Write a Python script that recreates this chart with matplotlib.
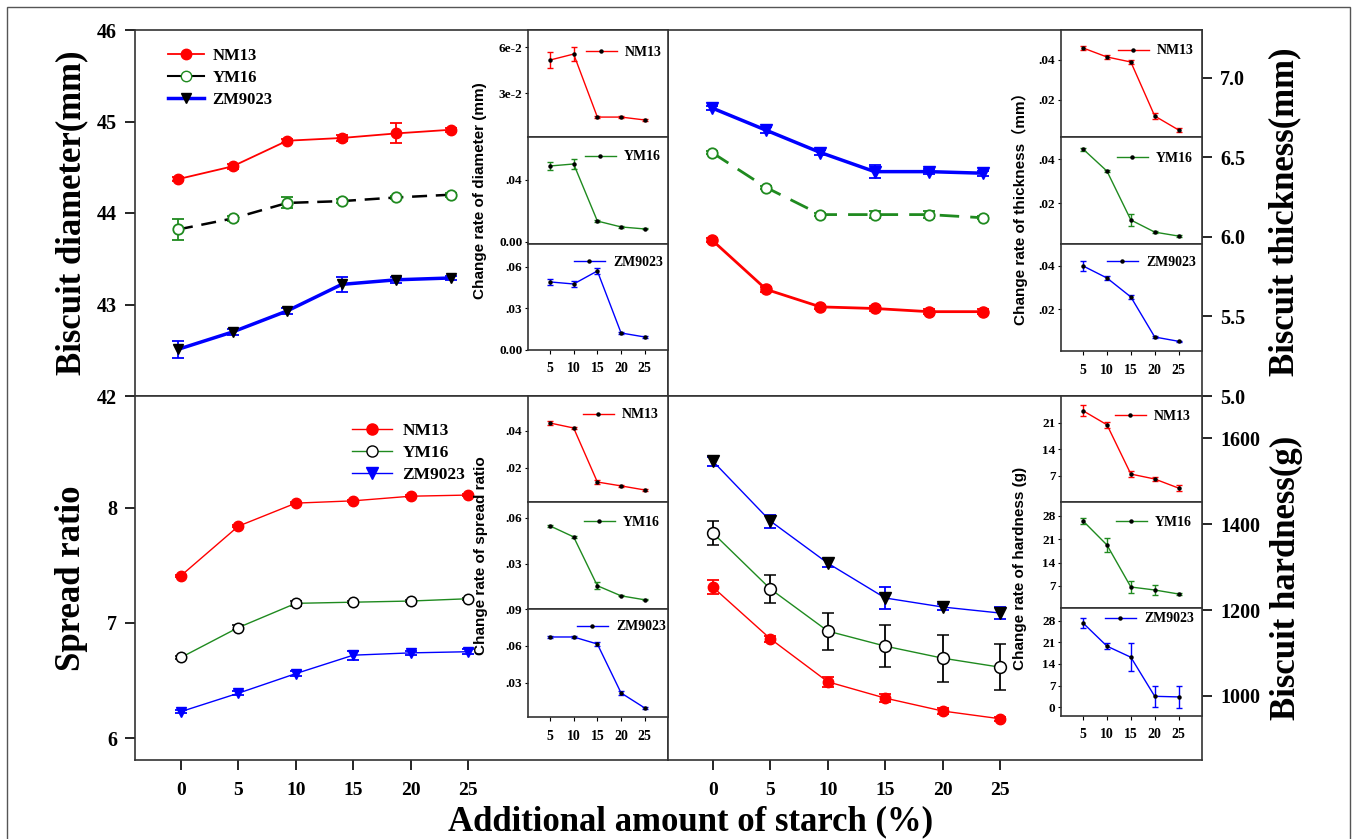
import matplotlib
matplotlib.use("Agg")
import matplotlib.pyplot as plt
from matplotlib.lines import Line2D
from matplotlib.patches import Rectangle

W, H = 1357, 839
SERIF = "Liberation Serif"
SANS = "Liberation Sans"
plt.rcParams['font.family'] = [SERIF, 'DejaVu Serif']
plt.rcParams['font.weight'] = 'bold'

RED, GREEN, BLUE = '#ff0000', '#1f8a1f', '#0000ff'

# ---------- data ----------
starch = [0, 5, 10, 15, 20, 25]
starch_rate = [5, 10, 15, 20, 25]
varieties = ['NM13', 'YM16', 'ZM9023']

# biscuit diameter (mm)
dia_nm13 = [44.37, 44.51, 44.79, 44.82, 44.87, 44.91]
dia_nm13_err = [0.02, 0.03, 0.02, 0.03, 0.11, 0.02]
dia_ym16 = [43.82, 43.94, 44.11, 44.13, 44.17, 44.20]
dia_ym16_err = [0.11, 0.03, 0.06, 0.02, 0.02, 0.02]
dia_zm = [42.51, 42.70, 42.93, 43.22, 43.27, 43.29]
dia_zm_err = [0.09, 0.03, 0.03, 0.08, 0.03, 0.02]

# biscuit thickness (mm)
thk_nm13 = [5.98, 5.67, 5.56, 5.55, 5.53, 5.53]
thk_nm13_err = [0.01, 0.015, 0.015, 0.015, 0.015, 0.015]
thk_ym16 = [6.53, 6.31, 6.14, 6.14, 6.14, 6.12]
thk_ym16_err = [0.01, 0.01, 0.01, 0.02, 0.02, 0.01]
thk_zm = [6.81, 6.67, 6.53, 6.41, 6.41, 6.40]
thk_zm_err = [0.015, 0.02, 0.015, 0.04, 0.015, 0.015]

# spread ratio
spr_nm13 = [7.41, 7.84, 8.04, 8.06, 8.10, 8.11]
spr_nm13_err = [0.01, 0.01, 0.01, 0.01, 0.01, 0.01]
spr_ym16 = [6.70, 6.96, 7.17, 7.18, 7.19, 7.21]
spr_ym16_err = [0.01, 0.02, 0.02, 0.01, 0.01, 0.01]
spr_zm = [6.23, 6.39, 6.56, 6.72, 6.74, 6.75]
spr_zm_err = [0.01, 0.02, 0.02, 0.04, 0.02, 0.02]

# biscuit hardness (g)
hrd_nm13 = [1253, 1133, 1033, 995, 965, 947]
hrd_nm13_err = [16, 7, 12, 10, 8, 5]
hrd_ym16 = [1379, 1249, 1151, 1116, 1088, 1067]
hrd_ym16_err = [28, 33, 43, 48, 55, 54]
hrd_zm = [1546, 1407, 1309, 1228, 1207, 1193]
hrd_zm_err = [10, 15, 10, 25, 8, 15]

# change rates (insets)
rd_nm13 = [0.0515, 0.0554, 0.0143, 0.0143, 0.0124]
rd_nm13_err = [0.005, 0.0045, 0.0008, 0.0008, 0.0008]
rd_ym16 = [0.049, 0.0503, 0.0135, 0.0097, 0.0084]
rd_ym16_err = [0.0025, 0.003, 0.0005, 0.0005, 0.0003]
rd_zm = [0.0492, 0.0477, 0.0571, 0.0123, 0.0094]
rd_zm_err = [0.002, 0.0025, 0.002, 0.0008, 0.0005]

rt_nm13 = [0.046, 0.0415, 0.039, 0.012, 0.005]
rt_nm13_err = [0.0012, 0.0012, 0.0008, 0.0015, 0.0008]
rt_ym16 = [0.0445, 0.0345, 0.0123, 0.0068, 0.005]
rt_ym16_err = [0.0007, 0.0004, 0.0025, 0.0004, 0.0004]
rt_zm = [0.040, 0.0344, 0.0256, 0.007, 0.005]
rt_zm_err = [0.0022, 0.0008, 0.0008, 0.0004, 0.0003]

rs_nm13 = [0.0443, 0.0416, 0.0124, 0.0103, 0.0081]
rs_nm13_err = [0.0012, 0.0005, 0.0012, 0.0005, 0.0005]
rs_ym16 = [0.0548, 0.0476, 0.0157, 0.0091, 0.0065]
rs_ym16_err = [0.0008, 0.0005, 0.0022, 0.0004, 0.0004]
rs_zm = [0.0673, 0.0673, 0.0616, 0.0219, 0.0097]
rs_zm_err = [0.0012, 0.0012, 0.0015, 0.0018, 0.0006]

rh_nm13 = [24.2, 20.5, 7.5, 6.2, 3.8]
rh_nm13_err = [1.5, 0.8, 0.7, 0.6, 0.8]
rh_ym16 = [26.5, 19.3, 6.7, 5.8, 4.6]
rh_ym16_err = [1.0, 2.0, 1.8, 1.6, 0.3]
rh_zm = [27.3, 19.8, 16.2, 3.5, 3.3]
rh_zm_err = [1.5, 1.0, 4.5, 3.5, 3.5]


def box(x0, y0, x1, y1):
    # pixel box -> figure rect
    return [x0 / W, 1 - y1 / H, (x1 - x0) / W, (y1 - y0) / H]


def frame(ax):
    for s in ax.spines.values():
        s.set_linewidth(1.2)
        s.set_color('#333333')


fig = plt.figure(figsize=(W / 100, H / 100), dpi=100)
fig.patches.append(Rectangle((7 / W, -0.01), (1350 - 7) / W, 1.01 - 7 / H,
                             transform=fig.transFigure, fill=False,
                             ec='#555555', lw=1.0))

# ---------- main panels ----------
ax_tl = fig.add_axes(box(135, 30, 668, 396))
ax_tr = fig.add_axes(box(668, 30, 1202, 396))
ax_bl = fig.add_axes(box(135, 396, 668, 760))
ax_br = fig.add_axes(box(668, 396, 1202, 760))
for ax in (ax_tl, ax_tr, ax_bl, ax_br):
    frame(ax)

eb = dict(capsize=4, capthick=1.3, elinewidth=1.3)

# diameter
ax_tl.errorbar(starch, dia_nm13, yerr=dia_nm13_err, color=RED, lw=1.3, marker='o', ms=7.5,
               mfc=RED, mec=RED, ecolor=RED, **eb)
ax_tl.errorbar(starch, dia_ym16, yerr=dia_ym16_err, color='black', lw=1.8, ls='--', dashes=(6, 3.5),
               marker='o', ms=7.5, mfc='white', mec=GREEN, mew=1.3, ecolor=GREEN, **eb)
ax_tl.errorbar(starch, dia_zm, yerr=dia_zm_err, color=BLUE, lw=2.5, marker='v', ms=7.5,
               mfc='black', mec='black', ecolor=BLUE, **eb)
ax_tl.set_xlim(-3.94, 44.87)
ax_tl.set_ylim(42, 46)
ax_tl.set_yticks([42, 43, 44, 45, 46])
ax_tl.set_xticks([])

# thickness
ax_tr.errorbar(starch, thk_zm, yerr=thk_zm_err, color=BLUE, lw=2.5, marker='v', ms=8,
               mfc=BLUE, mec=BLUE, ecolor=BLUE, **eb)
ax_tr.errorbar(starch, thk_ym16, yerr=thk_ym16_err, color=GREEN, lw=2.0, ls='--', dashes=(7, 4),
               marker='o', ms=7.5, mfc='white', mec=GREEN, mew=1.3, ecolor=GREEN, **eb)
ax_tr.errorbar(starch, thk_nm13, yerr=thk_nm13_err, color=RED, lw=2.0, marker='o', ms=8,
               mfc=RED, mec=RED, ecolor=RED, **eb)
ax_tr.set_xlim(-4.06, 45.2)
ax_tr.set_ylim(5.0, 7.30)
ax_tr.set_yticks([5.0, 5.5, 6.0, 6.5, 7.0])
ax_tr.set_yticklabels(['5.0', '5.5', '6.0', '6.5', '7.0'])
ax_tr.set_xticks([])

# spread ratio
ax_bl.errorbar(starch, spr_nm13, yerr=spr_nm13_err, color=RED, lw=1.0, marker='o', ms=7.5,
               mfc=RED, mec=RED, ecolor=RED, **eb)
ax_bl.errorbar(starch, spr_ym16, yerr=spr_ym16_err, color=GREEN, lw=1.0, marker='o', ms=7.5,
               mfc='white', mec='black', mew=1.1, ecolor='black', **eb)
ax_bl.errorbar(starch, spr_zm, yerr=spr_zm_err, color=BLUE, lw=1.0, marker='v', ms=7.5,
               mfc=BLUE, mec=BLUE, ecolor=BLUE, **eb)
ax_bl.set_xlim(-4.0, 42.4)
ax_bl.set_ylim(5.81, 8.97)
ax_bl.set_yticks([6, 7, 8])
ax_bl.set_xticks(starch)

# hardness
ax_br.errorbar(starch, hrd_zm, yerr=hrd_zm_err, color=BLUE, lw=1.0, marker='v', ms=8,
               mfc='black', mec='black', ecolor=BLUE, **eb)
ax_br.errorbar(starch, hrd_ym16, yerr=hrd_ym16_err, color=GREEN, lw=1.0, marker='o', ms=8.5,
               mfc='white', mec='black', mew=1.1, ecolor='black', **eb)
ax_br.errorbar(starch, hrd_nm13, yerr=hrd_nm13_err, color=RED, lw=1.0, marker='o', ms=7.5,
               mfc=RED, mec=RED, ecolor=RED, **eb)
ax_br.set_xlim(-3.92, 42.6)
ax_br.set_ylim(851, 1698)
ax_br.set_yticks([1000, 1200, 1400, 1600])
ax_br.set_xticks(starch)

for ax in (ax_tl, ax_bl):
    ax.tick_params(axis='y', direction='out', length=7, width=1.2, pad=6, labelsize=14.5)
for ax in (ax_tr, ax_br):
    ax.tick_params(axis='y', which='both', left=False, labelleft=False, right=True,
                   labelright=True, direction='out', length=7, width=1.2, pad=6, labelsize=14.5)
for ax in (ax_bl, ax_br):
    ax.tick_params(axis='x', direction='out', length=7, width=1.2, pad=9, labelsize=14)

# main legends
tl_handles = [
    Line2D([], [], color=RED, lw=1.3, marker='o', ms=7.5, mfc=RED, mec=RED),
    Line2D([], [], color='black', lw=1.5, marker='o', ms=7.5, mfc='white', mec=GREEN),
    Line2D([], [], color=BLUE, lw=2.5, marker='v', ms=7.5, mfc='black', mec='black'),
]
ax_tl.legend(tl_handles, varieties, loc='center left', bbox_to_anchor=(168 / W, 1 - 78 / H),
             bbox_transform=fig.transFigure, frameon=False, borderpad=0, borderaxespad=0,
             handlelength=2.15, handletextpad=0.5, labelspacing=0.35,
             prop=dict(family=SERIF, weight='bold', size=12))
bl_handles = [
    Line2D([], [], color=RED, lw=1.0, marker='o', ms=8, mfc=RED, mec=RED),
    Line2D([], [], color=GREEN, lw=1.0, marker='o', ms=8, mfc='white', mec='black'),
    Line2D([], [], color=BLUE, lw=1.0, marker='v', ms=8, mfc=BLUE, mec=BLUE),
]
ax_bl.legend(bl_handles, varieties, loc='center left', bbox_to_anchor=(352 / W, 1 - 453 / H),
             bbox_transform=fig.transFigure, frameon=False, borderpad=0, borderaxespad=0,
             handlelength=2.3, handletextpad=0.6, labelspacing=0.35,
             prop=dict(family=SERIF, weight='bold', size=12.5))


# ---------- insets ----------
def inset(rect, y, err, color, label, ylim, ticks, ticklabels, leg_xy, bottom=False):
    ax = fig.add_axes(box(*rect))
    frame(ax)
    ax.errorbar(starch_rate, y, yerr=err, color=color, lw=1.0, marker='o', ms=2.2,
                mfc='black', mec='black', ecolor=color, elinewidth=1.0, capsize=2, capthick=1.0)
    ax.set_xlim(0.37, 29.9)
    ax.set_ylim(*ylim)
    ax.set_yticks(ticks)
    ax.set_yticklabels(ticklabels)
    ax.tick_params(axis='y', direction='out', length=2, width=0.8, pad=2, labelsize=9.5)
    if bottom:
        ax.set_xticks(starch_rate)
        ax.tick_params(axis='x', direction='out', length=3, width=0.8, pad=6, labelsize=10)
    else:
        ax.set_xticks([])
    h = Line2D([], [], color=color, lw=1.0, marker='o', ms=2.2, mfc='black', mec='black')
    ax.legend([h], [label], loc='center left', bbox_to_anchor=(leg_xy[0] / W, 1 - leg_xy[1] / H),
              bbox_transform=fig.transFigure, frameon=False, borderpad=0, borderaxespad=0,
              handlelength=2.2, handletextpad=0.6,
              prop=dict(family=SERIF, weight='bold', size=10))
    return ax


# diameter change rate
inset((528, 30, 668, 137), rd_nm13, rd_nm13_err, RED, 'NM13', (0.0013, 0.0711),
      [0.03, 0.06], ['3e-2', '6e-2'], (586, 52))
inset((528, 137, 668, 244), rd_ym16, rd_ym16_err, GREEN, 'YM16', (-0.0013, 0.0677),
      [0.0, 0.04], ['0.00', '.04'], (585, 157))
inset((528, 244, 668, 350), rd_zm, rd_zm_err, BLUE, 'ZM9023', (0.0, 0.0766),
      [0.0, 0.03, 0.06], ['0.00', '.03', '.06'], (574, 262), bottom=True)

# thickness change rate
inset((1061, 30, 1202, 137), rt_nm13, rt_nm13_err, RED, 'NM13', (0.0015, 0.055),
      [0.02, 0.04], ['.02', '.04'], (1118, 51))
inset((1061, 137, 1202, 244), rt_ym16, rt_ym16_err, GREEN, 'YM16', (0.0014, 0.05),
      [0.02, 0.04], ['.02', '.04'], (1117, 158))
inset((1061, 244, 1202, 351), rt_zm, rt_zm_err, BLUE, 'ZM9023', (0.0005, 0.0502),
      [0.02, 0.04], ['.02', '.04'], (1107, 262), bottom=True)

# spread ratio change rate
inset((528, 396, 668, 502), rs_nm13, rs_nm13_err, RED, 'NM13', (0.0016, 0.0589),
      [0.02, 0.04], ['.02', '.04'], (583, 415))
inset((528, 502, 668, 609), rs_ym16, rs_ym16_err, GREEN, 'YM16', (0.0005, 0.0704),
      [0.03, 0.06], ['.03', '.06'], (584, 522))
inset((528, 609, 668, 717), rs_zm, rs_zm_err, BLUE, 'ZM9023', (0.0024, 0.09),
      [0.03, 0.06, 0.09], ['.03', '.06', '.09'], (577, 627), bottom=True)

# hardness change rate
inset((1061, 396, 1202, 502), rh_nm13, rh_nm13_err, RED, 'NM13', (0.13, 28.1),
      [7, 14, 21], ['7', '14', '21'], (1115, 416))
inset((1061, 502, 1202, 608), rh_ym16, rh_ym16_err, GREEN, 'YM16', (0.4, 32.2),
      [7, 14, 21, 28], ['7', '14', '21', '28'], (1116, 522))
inset((1061, 608, 1202, 716), rh_zm, rh_zm_err, BLUE, 'ZM9023', (-2.9, 32.2),
      [0, 7, 14, 21, 28], ['0', '7', '14', '21', '28'], (1105, 619), bottom=True)

# ---------- labels ----------
big = dict(fontsize=25, fontweight='bold', family=SERIF, ha='center', va='center')
fig.text(72 / W, 1 - 213 / H, 'Biscuit diameter(mm)', rotation=90, **big)
fig.text(72 / W, 1 - 578 / H, 'Spread ratio', rotation=90, **big)
fig.text(1285 / W, 1 - 212 / H, 'Biscuit thickness(mm)', rotation=90, **big)
fig.text(1286 / W, 1 - 578 / H, 'Biscuit hardness(g)', rotation=90, **big)
fig.text(691 / W, 1 - 822 / H, 'Additional amount of starch (%)', **big)

small = dict(fontsize=11, fontweight='bold', family=[SANS, 'Noto Sans CJK SC'],
             ha='center', va='center', rotation=90)
fig.text(480 / W, 1 - 191 / H, 'Change rate of diameter (mm)', **small)
fig.text(1020 / W, 1 - 205 / H, 'Change rate of thickness（mm）', **small)
fig.text(481 / W, 1 - 556 / H, 'Change rate of spread ratio', **small)
fig.text(1020 / W, 1 - 568 / H, 'Change rate of hardness (g)', **small)

fig.savefig('out.png', dpi=100)
